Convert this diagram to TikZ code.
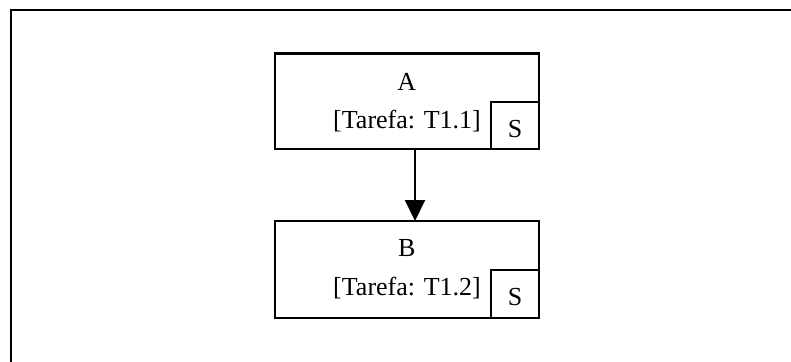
\documentclass[tikz,border=0pt]{standalone}
\usepackage{fontspec}
\setmainfont{Liberation Serif}
\usetikzlibrary{arrows.meta}
\begin{document}
\begin{tikzpicture}[x=1pt,y=-1pt,
  frame/.style={draw=black,line width=2pt},
  taskbox/.style={draw=black,line width=2pt,fill=white},
  label/.style={anchor=base,inner sep=0pt,font=\fontsize{26}{30}\selectfont},
  flow/.style={line width=2pt,-{Triangle[length=21pt,width=20pt]}}]
  \useasboundingbox (0,0) rectangle (791,361);
  % outer frame (continues past the page edge)
  \draw[frame] (10.5,380) -- (10.5,10.5) -- (820,10.5);
  % task A
  \path[taskbox] (274.5,53.5) rectangle (539,149) coordinate (Abr);
  \coordinate (Atop) at (406.75,53.5);
  \coordinate (Abot) at (415,149);
  \node[label] (Aname) at (406.75,90) {A};
  \node[label] (Atask) at (407,128) {[Tarefa: T1.1]};
  \path[taskbox] (491,102) rectangle (539,149);
  \node[label] (As) at (515,137) {S};
  % task B
  \path[taskbox] (274.5,221) rectangle (539,318);
  \coordinate (Btop) at (415,221);
  \node[label] (Bname) at (406.75,256) {B};
  \node[label] (Btask) at (407,295) {[Tarefa: T1.2]};
  \path[taskbox] (491,270) rectangle (539,318);
  \node[label] (Bs) at (515,305) {S};
  % precedence arrow
  \draw[flow] (Abot) -- (Btop);
\end{tikzpicture}
\end{document}
